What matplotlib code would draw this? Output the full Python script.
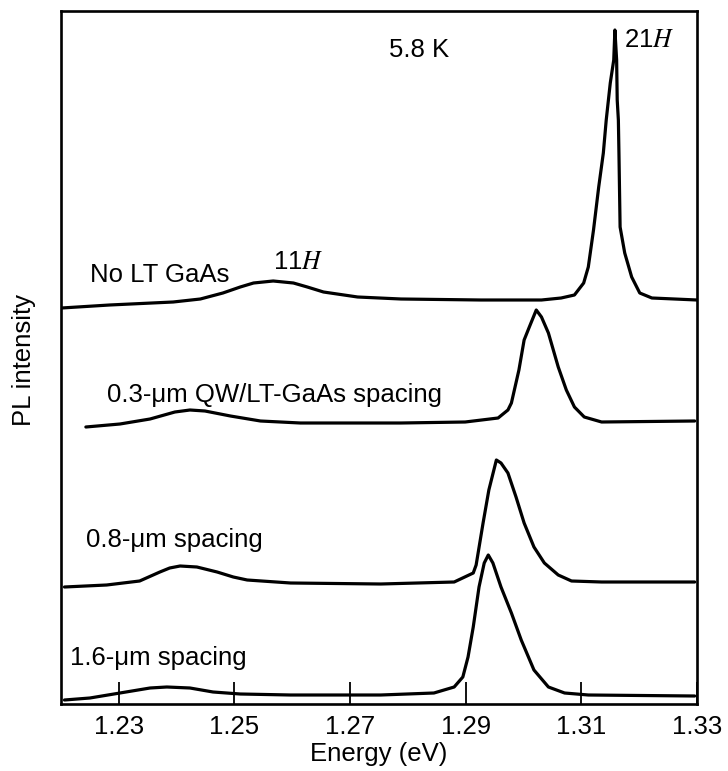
import matplotlib
matplotlib.use("Agg")
import matplotlib.pyplot as plt

plt.rcParams['font.family'] = ['Liberation Sans', 'DejaVu Sans']
plt.rcParams['mathtext.fontset'] = 'stix'

# ---- data ----
# Energies in eV, intensities in arbitrary units (relative to each trace's own baseline)
e_no_lt = [1.2201, 1.2284, 1.2394, 1.2441, 1.2480, 1.2510, 1.2533, 1.2567, 1.2602, 1.2626,
           1.2654, 1.2713, 1.2788, 1.2926, 1.3031, 1.3065, 1.3088, 1.3104, 1.3112, 1.3121,
           1.3130, 1.3138, 1.3143, 1.3150, 1.3156, 1.3158, 1.3161, 1.3162, 1.3164, 1.3165,
           1.3167, 1.3175, 1.3187, 1.3201, 1.3222, 1.3300]
i_no_lt = [0, 3, 6, 9, 15, 21, 25, 27, 25, 21,
           16, 11, 9, 8, 8, 10, 13, 25, 41, 78,
           121, 155, 188, 225, 248, 278, 248, 208, 188, 155,
           81, 55, 31, 15, 10, 8]

e_03 = [1.2243, 1.2302, 1.2354, 1.2397, 1.2423, 1.2449, 1.2493, 1.2545, 1.2614, 1.2788,
        1.2899, 1.2956, 1.2973, 1.2979, 1.2992, 1.3001, 1.3010, 1.3022, 1.3031, 1.3043,
        1.3060, 1.3074, 1.3088, 1.3105, 1.3135, 1.3296]
i_03 = [0, 3, 8, 15, 17, 16, 11, 6, 4, 4,
        5, 9, 17, 24, 57, 87, 100, 117, 110, 94,
        60, 37, 20, 10, 5, 6]

e_08 = [1.2206, 1.2279, 1.2336, 1.2371, 1.2388, 1.2406, 1.2435, 1.2470, 1.2498, 1.2522,
        1.2597, 1.2753, 1.2880, 1.2913, 1.2918, 1.2930, 1.2940, 1.2953, 1.2961, 1.2973,
        1.2987, 1.3001, 1.3018, 1.3036, 1.3060, 1.3083, 1.3135, 1.3296]
i_08 = [0, 2, 6, 15, 19, 21, 20, 15, 10, 7,
        4, 3, 5, 14, 22, 64, 97, 127, 124, 114,
        90, 64, 40, 24, 12, 6, 5, 5]

e_16 = [1.2206, 1.2250, 1.2302, 1.2354, 1.2383, 1.2423, 1.2463, 1.2510, 1.2597, 1.2753,
        1.2845, 1.2880, 1.2895, 1.2904, 1.2913, 1.2923, 1.2932, 1.2939, 1.2947, 1.2961,
        1.2979, 1.2996, 1.3018, 1.3043, 1.3071, 1.3112, 1.3296]
i_16 = [0, 2, 7, 12, 13, 12, 8, 6, 5, 5,
        7, 13, 23, 43, 73, 113, 137, 145, 137, 113,
        87, 60, 30, 13, 7, 5, 4]

labels = ["No LT GaAs", "0.3-\u03bcm QW/LT-GaAs spacing", "0.8-\u03bcm spacing", "1.6-\u03bcm spacing"]
xticks = [1.23, 1.25, 1.27, 1.29, 1.31, 1.33]
xtick_labels = ["1.23", "1.25", "1.27", "1.29", "1.31", "1.33"]

# vertical offsets for stacking (layout)
offsets = [395, 276, 116, 3]
series = [(e_no_lt, i_no_lt), (e_03, i_03), (e_08, i_08), (e_16, i_16)]

fig = plt.figure(figsize=(7.28, 7.71), dpi=100)
ax = fig.add_axes([61 / 728, 1 - 704 / 771, 636 / 728, 693 / 771])

for (e, inten), off in zip(series, offsets):
    ax.plot(e, [v + off for v in inten], color='black', lw=2.3,
            solid_joinstyle='round', solid_capstyle='round')

ax.set_xlim(1.22, 1.33)
ax.set_ylim(-1, 692)
ax.set_yticks([])
ax.set_xticks(xticks)
ax.set_xticklabels(xtick_labels)
ax.tick_params(axis='x', direction='in', length=16, width=1.3, labelsize=18.5, pad=8, color='black')
for s in ax.spines.values():
    s.set_linewidth(1.9)

fs = 18.5
ax.text(1.2250, 428, labels[0], fontsize=fs, ha='left', va='center')
ax.text(1.2279, 308, labels[1], fontsize=fs, ha='left', va='center')
ax.text(1.2243, 163, labels[2], fontsize=fs, ha='left', va='center')
ax.text(1.2215, 45, labels[3], fontsize=fs, ha='left', va='center')
ax.text(1.2567, 441, "11$H$", fontsize=fs, ha='left', va='center')
ax.text(1.3173, 663, "21$H$", fontsize=fs, ha='left', va='center')
ax.text(1.2767, 653, "5.8 K", fontsize=fs, ha='left', va='center')

ax.set_xlabel("Energy (eV)", fontsize=fs, labelpad=2)
fig.text(24 / 728, 1 - 360 / 771, "PL intensity", fontsize=fs, rotation=90, ha='center', va='center')

fig.savefig("out.png", dpi=100)
